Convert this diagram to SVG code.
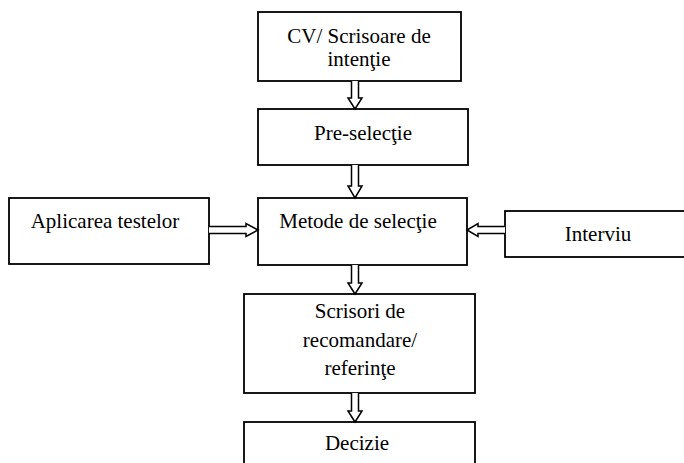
<svg xmlns="http://www.w3.org/2000/svg" width="684" height="463" viewBox="0 0 684 463">
<style>
.box{fill:#fff;stroke:#000;stroke-width:1.8}
.arr{fill:#fff;stroke:#000;stroke-width:1.5;stroke-linejoin:miter}
.t{font-family:'Liberation Serif','DejaVu Serif',serif;font-size:21px;fill:#000;text-anchor:middle}
</style>
<rect width="684" height="463" fill="#fff"/>
<g id="cv"><rect class="box" x="258" y="12" width="203" height="69"/><text class="t" x="359" y="43">CV/ Scrisoare de</text><text class="t" x="359" y="66">intenţie</text></g>
<g id="preselectie"><rect class="box" x="258" y="109" width="210" height="56"/><text class="t" x="363" y="140">Pre-selecţie</text></g>
<g id="metode"><rect class="box" x="258" y="198" width="209" height="67"/><text class="t" x="358" y="228">Metode de selecţie</text></g>
<g id="aplicarea"><rect class="box" x="9" y="198" width="200" height="66"/><text class="t" x="105" y="228">Aplicarea testelor</text></g>
<g id="interviu"><rect class="box" x="505" y="211" width="180" height="46"/><text class="t" x="598" y="241">Interviu</text></g>
<g id="scrisori"><rect class="box" x="244" y="294" width="231" height="99"/><text class="t" x="360" y="318">Scrisori de</text><text class="t" x="360" y="347">recomandare/</text><text class="t" x="360" y="375">referinţe</text></g>
<g id="decizie"><rect class="box" x="244" y="422" width="231" height="50"/><text class="t" x="357" y="450">Decizie</text></g>
<g id="connectors">
<path class="arr" d="M351.5 81V98H348L355 109L362 98H358.5V81"/>
<path class="arr" d="M351.5 165V186H348L355 198L362 186H358.5V165"/>
<path class="arr" d="M351.5 265V283H348L355 294L362 283H358.5V265"/>
<path class="arr" d="M351.5 393V411H348L355 422L362 411H358.5V393"/>
<path class="arr" d="M209 226.5H246V223.5L258 230L246 236.5V233.5H209"/>
<path class="arr" d="M505 226.5H478V223.5L467 230L478 236.5V233.5H505"/>
</g>
</svg>
